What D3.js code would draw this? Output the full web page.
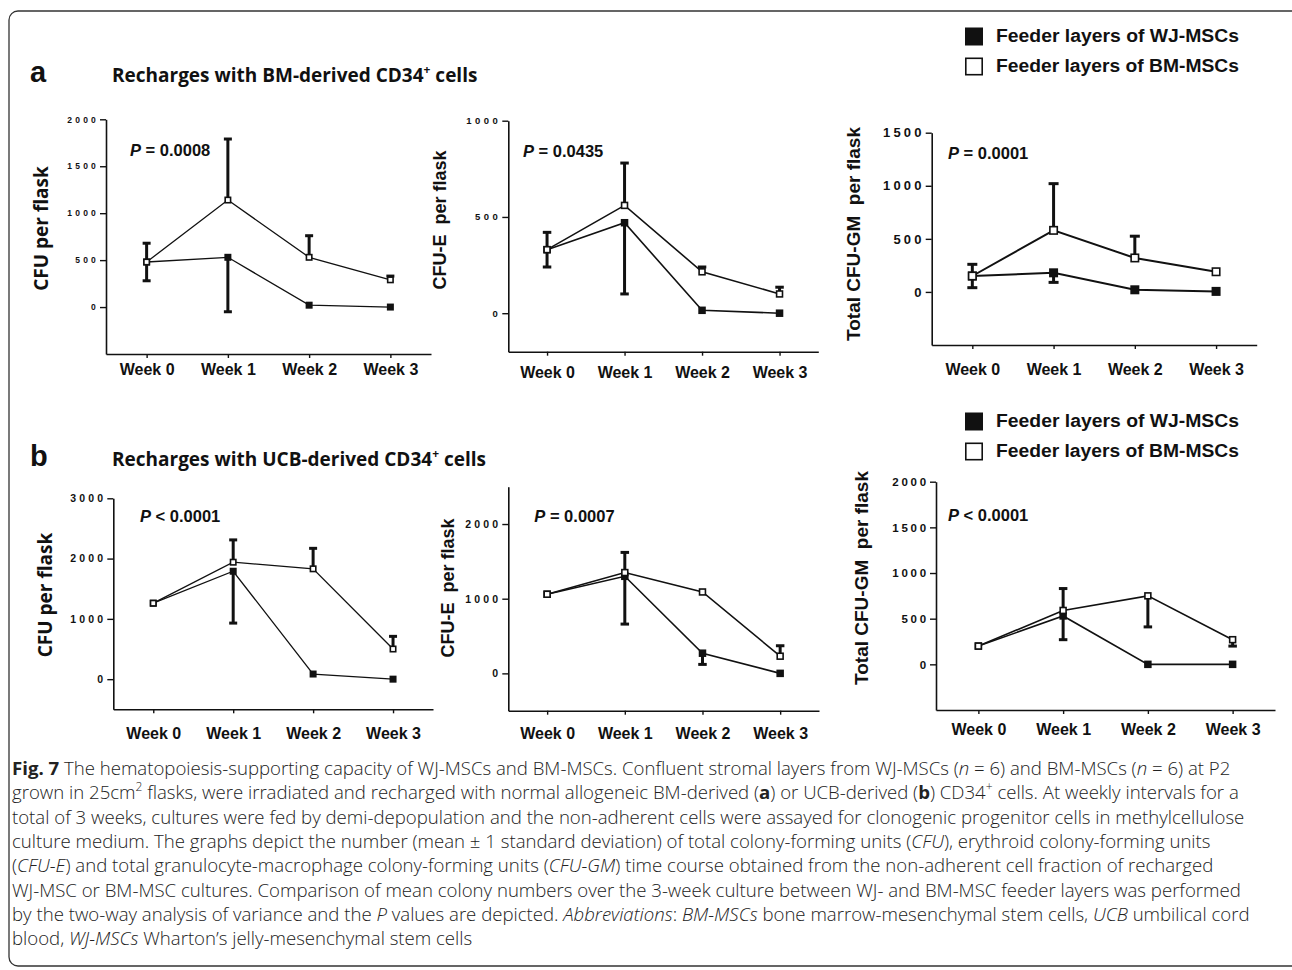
<!DOCTYPE html>
<html>
<head>
<meta charset="utf-8">
<script src="https://cdn.jsdelivr.net/npm/d3@7"></script>
<style>
  body { margin: 0; background: #fff; }
  svg { display: block; }
</style>
</head>
<body>
<div id="chart"></div>
<script>
// categories
const weeks = ["Week 0", "Week 1", "Week 2", "Week 3"];
const legendLabels = ["Feeder layers of WJ-MSCs", "Feeder layers of BM-MSCs"];

// a: recharged with BM-derived CD34+ cells  (null = no whisker)
const aCfuWj = [480, 530, 20, 0];
const aCfuWjLo = [280, -50, null, null];
const aCfuBm = [480, 1140, 530, 290];
const aCfuBmHi = [680, 1790, 760, 330];

const aCfueWj = [330, 470, 15, 0];
const aCfueWjLo = [240, 100, null, null];
const aCfueBm = [330, 560, 215, 100];
const aCfueBmHi = [420, 780, 240, 135];

const aGmWj = [150, 180, 20, 5];
const aGmWjLo = [40, 90, null, null];
const aGmBm = [150, 580, 320, 190];
const aGmBmHi = [260, 1020, 525, null];

// b: recharged with UCB-derived CD34+ cells
const bCfuWj = [1260, 1790, 85, 0];
const bCfuWjLo = [null, 930, null, null];
const bCfuBm = [1260, 1940, 1830, 500];
const bCfuBmHi = [null, 2310, 2170, 710];

const bCfueWj = [1060, 1300, 270, 0];
const bCfueWjLo = [null, 660, 120, null];
const bCfueBm = [1060, 1350, 1090, 230];
const bCfueBmHi = [null, 1620, null, 370];

const bGmWj = [200, 530, 0, 0];
const bGmWjLo = [null, 270, null, null];
const bGmBm = [200, 590, 750, 270];
const bGmBmHi = [null, 830, null, null];
const bGmBmLo = [null, null, 410, 200];

// tick labels
const aCfuTicks = [0, 500, 1000, 1500, 2000];
const aCfueTicks = [0, 500, 1000];
const aGmTicks = [0, 500, 1000, 1500];
const bCfuTicks = [0, 1000, 2000, 3000];
const bCfueTicks = [0, 1000, 2000];
const bGmTicks = [0, 500, 1000, 1500, 2000];

const pValues = ["P = 0.0008", "P = 0.0435", "P = 0.0001", "P < 0.0001", "P = 0.0007", "P < 0.0001"];

const none = [null, null, null, null];
const ARIAL = "'Liberation Sans', Arial, sans-serif";
const OPEN = "'Open Sans', 'Noto Sans', sans-serif";

const svg = d3.select("#chart").append("svg")
  .attr("width", 1292)
  .attr("height", 970);

// frame round the figure
svg.append("rect")
  .attr("x", 9).attr("y", 11)
  .attr("width", 1320).attr("height", 955)
  .attr("rx", 9)
  .attr("fill", "none")
  .attr("stroke", "#333")
  .attr("stroke-width", 1.3);

var panels = [
  { wj: aCfuWj, wjLo: aCfuWjLo, wjHi: none, bm: aCfuBm, bmLo: none, bmHi: aCfuBmHi,
    ticks: aCfuTicks, domain: [-500, 2000], p: pValues[0], label: "CFU per flask",
    x0: 106, x1: 431, yb: 354, yt: 119.3, xPad: 6, tickFont: 8.5, tickLs: 3.2, ms: 7, lw: 1.3,
    lab: { x: 41, y: 228.5, font: OPEN, size: 19 }, pPos: [130, 156] },
  { wj: aCfueWj, wjLo: aCfueWjLo, wjHi: none, bm: aCfueBm, bmLo: none, bmHi: aCfueBmHi,
    ticks: aCfueTicks, domain: [-200, 1000], p: pValues[1], label: "CFU-E  per flask",
    x0: 508.3, x1: 818.3, yb: 351.7, yt: 120.7, xPad: 11, tickFont: 9.5, tickLs: 3.5, ms: 7.5, lw: 1.6,
    lab: { x: 439.5, y: 220, font: ARIAL, size: 18 }, pPos: [523, 156.7] },
  { wj: aGmWj, wjLo: aGmWjLo, wjHi: none, bm: aGmBm, bmLo: none, bmHi: aGmBmHi,
    ticks: aGmTicks, domain: [-500, 1500], p: pValues[2], label: "Total CFU-GM  per flask",
    x0: 931.7, x1: 1256.7, yb: 345, yt: 132.7, xPad: 15, tickFont: 13, tickLs: 3.2, ms: 9, lw: 2,
    lab: { x: 853, y: 234, font: ARIAL, size: 19 }, pPos: [948, 159] },
  { wj: bCfuWj, wjLo: bCfuWjLo, wjHi: none, bm: bCfuBm, bmLo: none, bmHi: bCfuBmHi,
    ticks: bCfuTicks, domain: [-500, 3000], p: pValues[3], label: "CFU per flask",
    x0: 113.3, x1: 433, yb: 709.3, yt: 498.3, xPad: 14, tickFont: 10.5, tickLs: 3.2, ms: 7, lw: 1.3,
    lab: { x: 44.7, y: 595, font: OPEN, size: 19 }, pPos: [140, 521.7] },
  { wj: bCfueWj, wjLo: bCfueWjLo, wjHi: none, bm: bCfueBm, bmLo: none, bmHi: bCfueBmHi,
    ticks: bCfueTicks, domain: [-500, 2500], p: pValues[4], label: "CFU-E  per flask",
    x0: 508.3, x1: 819, yb: 710.7, yt: 486.7, xPad: 13, tickFont: 10.5, tickLs: 3.2, ms: 7.5, lw: 1.6,
    lab: { x: 448, y: 588, font: ARIAL, size: 18 }, pPos: [534.3, 522.3] },
  { wj: bGmWj, wjLo: bGmWjLo, wjHi: none, bm: bGmBm, bmLo: bGmBmLo, bmHi: bGmBmHi,
    ticks: bGmTicks, domain: [-500, 2000], p: pValues[5], label: "Total CFU-GM  per flask",
    x0: 936, x1: 1275, yb: 710, yt: 481.7, xPad: 10, tickFont: 11.5, tickLs: 2.8, ms: 7.5, lw: 1.6,
    lab: { x: 861.5, y: 578, font: ARIAL, size: 19 }, pPos: [948, 520.7] }
];

panels.forEach(drawPanel);

function drawPanel(p) {
  var x = d3.scalePoint().domain(weeks).range([p.x0, p.x1]).padding(0.5);
  var y = d3.scaleLinear().domain(p.domain).range([p.yb, p.yt]);
  var g = svg.append("g");

  // x-axis
  var xa = g.append("g")
    .attr("transform", "translate(0," + p.yb + ")")
    .call(d3.axisBottom(x).tickSize(4).tickSizeOuter(0).tickPadding(p.xPad));
  xa.selectAll("text")
    .attr("font-family", ARIAL).attr("font-weight", "bold")
    .attr("font-size", 16).attr("fill", "#111");

  // y-axis
  var ya = g.append("g")
    .attr("transform", "translate(" + p.x0 + ",0)")
    .call(d3.axisLeft(y).tickValues(p.ticks).tickSize(6).tickSizeOuter(0)
      .tickPadding(1).tickFormat(d3.format("d")));
  ya.selectAll("text")
    .attr("font-family", ARIAL).attr("font-weight", "bold")
    .attr("font-size", p.tickFont).attr("letter-spacing", p.tickLs)
    .attr("fill", "#111");

  g.selectAll(".domain").attr("stroke", "#111").attr("stroke-width", 1.6);
  g.selectAll(".tick line").attr("stroke", "#111").attr("stroke-width", 1.4);

  // y-lable
  g.append("text")
    .attr("transform", "translate(" + p.lab.x + "," + p.lab.y + ") rotate(-90)")
    .attr("text-anchor", "middle")
    .attr("dy", "0.36em")
    .attr("font-family", p.lab.font).attr("font-weight", "bold")
    .attr("font-size", p.lab.size).attr("fill", "#111")
    .style("white-space", "pre")
    .text(p.label);

  // P value
  var pt = g.append("text")
    .attr("x", p.pPos[0]).attr("y", p.pPos[1])
    .attr("font-family", ARIAL).attr("font-weight", "bold")
    .attr("font-size", 16.5).attr("fill", "#111");
  pt.append("tspan").attr("font-style", "italic").text("P");
  pt.append("tspan").text(p.p.slice(1));

  // error bars (one whisker per series, as drawn in the figure)
  var cap = p.ms * 0.5 + 0.5;
  [[p.wj, p.wjLo], [p.wj, p.wjHi], [p.bm, p.bmLo], [p.bm, p.bmHi]].forEach(function(pair) {
    var mean = pair[0], end = pair[1];
    weeks.forEach(function(w, i) {
      if (end[i] == null) return;
      g.append("line")
        .attr("x1", x(w)).attr("x2", x(w))
        .attr("y1", y(mean[i])).attr("y2", y(end[i]))
        .attr("stroke", "#111").attr("stroke-width", 3);
      g.append("line")
        .attr("x1", x(w) - cap).attr("x2", x(w) + cap)
        .attr("y1", y(end[i])).attr("y2", y(end[i]))
        .attr("stroke", "#111").attr("stroke-width", 3);
    });
  });

  // lines
  var line = d3.line().x(function(d, i) { return x(weeks[i]); }).y(function(d) { return y(d); });
  [p.wj, p.bm].forEach(function(s) {
    g.append("path").attr("d", line(s))
      .attr("fill", "none").attr("stroke", "#111").attr("stroke-width", p.lw);
  });

  // markers: filled = WJ-MSCs, open = BM-MSCs
  g.selectAll(".wj").data(p.wj).enter().append("rect")
    .attr("x", function(d, i) { return x(weeks[i]) - p.ms / 2; })
    .attr("y", function(d) { return y(d) - p.ms / 2; })
    .attr("width", p.ms).attr("height", p.ms)
    .attr("fill", "#111");
  g.selectAll(".bm").data(p.bm).enter().append("rect")
    .attr("x", function(d, i) { return x(weeks[i]) - p.ms / 2 + 0.8; })
    .attr("y", function(d) { return y(d) - p.ms / 2 + 0.8; })
    .attr("width", p.ms - 1.6).attr("height", p.ms - 1.6)
    .attr("fill", "#fff").attr("stroke", "#111").attr("stroke-width", 1.6);
}

// legends
function drawLegend(top) {
  legendLabels.forEach(function(t, i) {
    var yy = top + i * 30;
    svg.append("rect")
      .attr("x", i ? 965.8 : 965).attr("y", i ? yy + 0.8 : yy)
      .attr("width", i ? 16.4 : 18).attr("height", i ? 16.4 : 18)
      .attr("fill", i ? "#fff" : "#111")
      .attr("stroke", i ? "#111" : "none").attr("stroke-width", 1.6);
    svg.append("text")
      .attr("x", 996).attr("y", yy + 14)
      .attr("font-family", ARIAL).attr("font-weight", "bold")
      .attr("font-size", 17.5).attr("fill", "#111")
      .attr("textLength", 243).attr("lengthAdjust", "spacingAndGlyphs")
      .text(t);
  });
}
drawLegend(27.5);
drawLegend(412.5);

// panel letters and titles
function drawTitle(letter, src, yy) {
  svg.append("text")
    .attr("x", 30).attr("y", yy)
    .attr("font-family", ARIAL).attr("font-weight", "bold")
    .attr("font-size", 29).attr("fill", "#111")
    .text(letter);
  var t = svg.append("text")
    .attr("x", 112).attr("y", yy)
    .attr("font-family", OPEN).attr("font-weight", "bold")
    .attr("font-size", 19).attr("fill", "#111");
  t.append("tspan").text("Recharges with " + src + "-derived CD34");
  t.append("tspan").attr("font-size", 12).attr("baseline-shift", "super").text("+");
  t.append("tspan").text(" cells");
}
drawTitle("a", "BM", 82);
drawTitle("b", "UCB", 466);

// caption
const caption = [
  [["Fig. 7", "b"], [" The hematopoiesis-supporting capacity of WJ-MSCs and BM-MSCs. Confluent stromal layers from WJ-MSCs ("], ["n", "i"], [" = 6) and BM-MSCs ("], ["n", "i"], [" = 6) at P2"]],
  [["grown in 25cm"], ["2", "sup"], [" flasks, were irradiated and recharged with normal allogeneic BM-derived ("], ["a", "b"], [") or UCB-derived ("], ["b", "b"], [") CD34"], ["+", "sup"], [" cells. At weekly intervals for a"]],
  [["total of 3 weeks, cultures were fed by demi-depopulation and the non-adherent cells were assayed for clonogenic progenitor cells in methylcellulose"]],
  [["culture medium. The graphs depict the number (mean ± 1 standard deviation) of total colony-forming units ("], ["CFU", "i"], ["), erythroid colony-forming units"]],
  [["("], ["CFU-E", "i"], [") and total granulocyte-macrophage colony-forming units ("], ["CFU-GM", "i"], [") time course obtained from the non-adherent cell fraction of recharged"]],
  [["WJ-MSC or BM-MSC cultures. Comparison of mean colony numbers over the 3-week culture between WJ- and BM-MSC feeder layers was performed"]],
  [["by the two-way analysis of variance and the "], ["P", "i"], [" values are depicted. "], ["Abbreviations", "i"], [": "], ["BM-MSCs", "i"], [" bone marrow-mesenchymal stem cells, "], ["UCB", "i"], [" umbilical cord"]],
  [["blood, "], ["WJ-MSCs", "i"], [" Wharton\u2019s jelly-mesenchymal stem cells"]]
];

caption.forEach(function(segs, li) {
  var t = svg.append("text")
    .attr("x", 12).attr("y", 775 + li * 24.3)
    .attr("font-family", OPEN).attr("font-weight", 300)
    .attr("font-size", 18.6).attr("fill", "#222")
    .style("white-space", "pre");
  segs.forEach(function(s) {
    var sp = t.append("tspan").text(s[0]);
    if (s[1] === "b") sp.attr("font-weight", "bold");
    if (s[1] === "i") sp.attr("font-style", "italic");
    if (s[1] === "sup") sp.attr("font-size", 12).attr("baseline-shift", "super");
  });
});
</script>
</body>
</html>
